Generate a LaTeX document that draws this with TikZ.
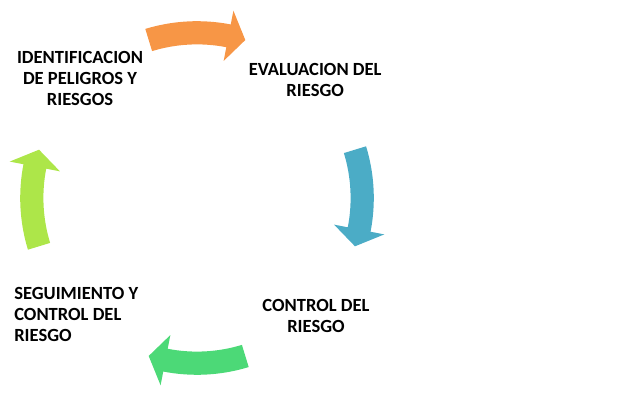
\documentclass[tikz,border=0pt]{standalone}
\usepackage{fontspec}
\setmainfont{Carlito}
\definecolor{orgArrow}{HTML}{F79646}
\definecolor{blueArrow}{HTML}{4BACC6}
\definecolor{greenArrow}{HTML}{4CD977}
\definecolor{limeArrow}{HTML}{ADE649}
\begin{document}
\begin{tikzpicture}[
  x=1cm,y=1cm,
  step label/.style={font=\fontsize{13.2}{15}\selectfont\bfseries,inner sep=0pt},
  cycle arrow/.style={line width=0pt}
]
  \useasboundingbox (0,0) rectangle (16,10);
  \def\R{4.13}
  \def\w{0.29}
  \def\h{0.64}

  % curved arrows of the cycle
  \begin{scope}[shift={(4.925,5.05)}]
    \foreach \a/\c in {107/orgArrow,17/blueArrow,-73/greenArrow,197/limeArrow}{
      \fill[\c,cycle arrow] (\a:\R+\w) arc[start angle=\a,delta angle=-28,radius=\R+\w]
        -- ({\a-28}:\R+\h) -- ({\a-34}:\R) -- ({\a-28}:\R-\h) -- ({\a-28}:\R-\w)
        arc[start angle={\a-28},delta angle=28,radius=\R-\w] -- cycle;
    }
  \end{scope}

  \node[step label,align=center] (ident) at (2.00,8.03) {IDENTIFICACION\\DE PELIGROS Y\\RIESGOS};
  \node[step label,align=center] (evalua) at (7.88,8.01) {EVALUACION DEL\\RIESGO};
  \node[step label,align=center] (control) at (7.90,2.11) {CONTROL DEL\\RIESGO};
  \node[step label,align=left,anchor=west] (seguim) at (0.35,2.13) {SEGUIMIENTO Y\\CONTROL DEL\\RIESGO};
\end{tikzpicture}
\end{document}
